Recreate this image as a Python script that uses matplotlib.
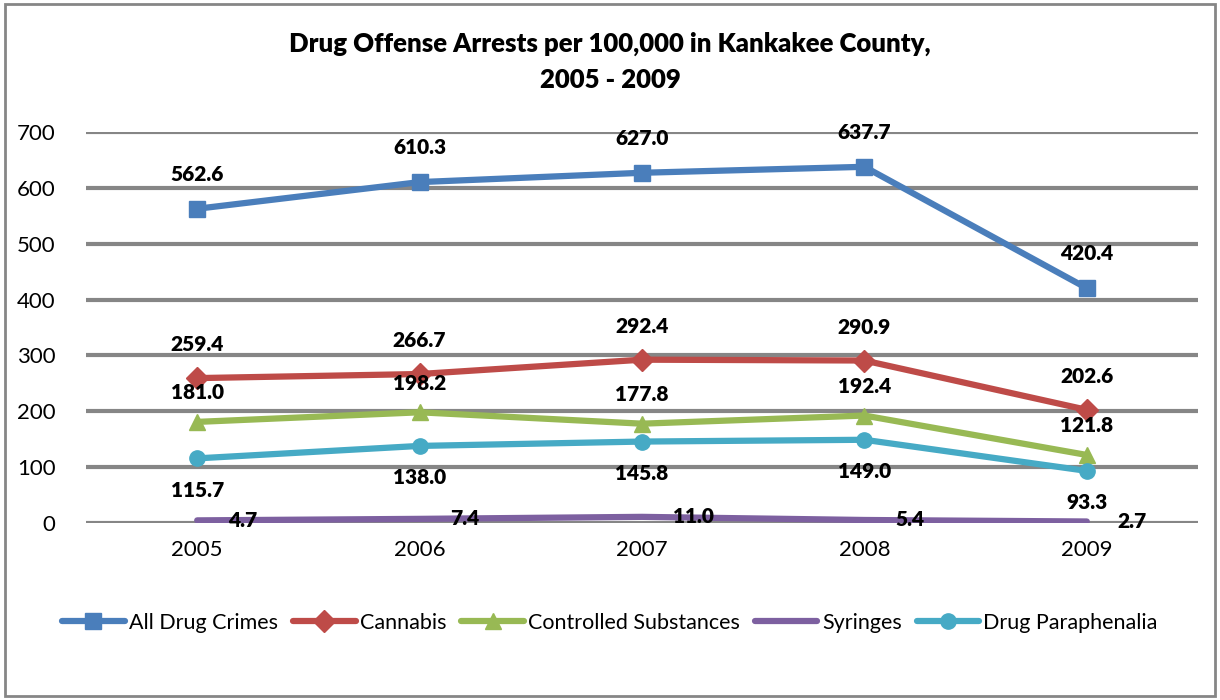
import matplotlib
matplotlib.use('Agg')
import matplotlib.pyplot as plt
from matplotlib.patches import Rectangle

years = ['2005', '2006', '2007', '2008', '2009']
all_drug = [562.6, 610.3, 627.0, 637.7, 420.4]
cannabis = [259.4, 266.7, 292.4, 290.9, 202.6]
controlled = [181.0, 198.2, 177.8, 192.4, 121.8]
syringes = [4.7, 7.4, 11.0, 5.4, 2.7]
paraphenalia = [115.7, 138.0, 145.8, 149.0, 93.3]

plt.rcParams['font.family'] = ['Lato', 'DejaVu Sans']

fig = plt.figure(figsize=(12.2, 7), dpi=100)
ax = fig.add_axes([86 / 1220, 177 / 700, 1112 / 1220, 391 / 700])

x = list(range(len(years)))
# (values, label, color, marker, label offset in points)
series = [
    (all_drug, 'All Drug Crimes', '#4A7EBB', 's', (0, 25), 'center'),
    (cannabis, 'Cannabis', '#BE4B48', 'D', (0, 24), 'center'),
    (controlled, 'Controlled Substances', '#98B954', '^', (0, 21), 'center'),
    (syringes, 'Syringes', '#7D60A0', None, (22, 0), 'left'),
    (paraphenalia, 'Drug Paraphenalia', '#46AAC5', 'o', (0, -23), 'center'),
]

for vals, name, col, mk, off, ha in series:
    ax.plot(x, vals, color=col, lw=4.5, marker=mk, markersize=11,
            solid_capstyle='round', label=name, zorder=3)
    for xi, v in zip(x, vals):
        ax.annotate('%.1f' % v, (xi, v), xytext=off, textcoords='offset points',
                    ha=ha, va='center', fontsize=15, fontweight='heavy', zorder=4)

ax.set_xlim(-0.5, 4.5)
ax.set_ylim(0, 700)
ax.set_yticks(range(0, 701, 100))
ax.set_xticks(x)
ax.set_xticklabels(years)
ax.tick_params(length=0, labelsize=16, pad=12)
ax.tick_params(axis='y', pad=22)
ax.grid(axis='y', color='#868686', lw=3)
ax.set_axisbelow(True)
for s in ax.spines.values():
    s.set_visible(False)

fig.text(0.5, 0.912, 'Drug Offense Arrests per 100,000 in Kankakee County,\n2005 - 2009',
         ha='center', va='center', fontsize=18.5, fontweight='heavy', linespacing=1.6)

fig.legend(loc='center', bbox_to_anchor=(0.5, 0.11), ncol=5, frameon=False,
           fontsize=15.5, handlelength=2.9, columnspacing=0.7, handletextpad=0.2)

fig.patches.append(Rectangle((5 / 1220, 4 / 700), 1210 / 1220, 692 / 700,
                             transform=fig.transFigure, fill=False,
                             edgecolor='#868686', lw=2))

fig.savefig('out.png', dpi=100)
